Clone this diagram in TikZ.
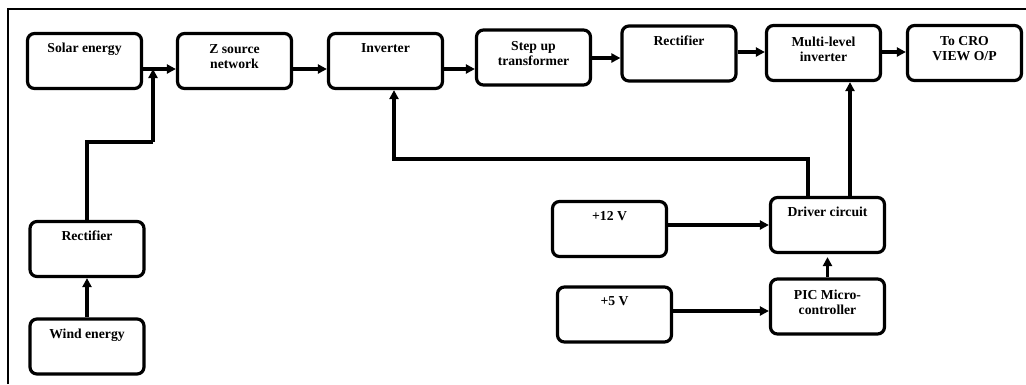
\documentclass[tikz,border=0pt]{standalone}
\usepackage{fontspec}
\setmainfont{Liberation Serif}
\usetikzlibrary{arrows.meta}
\begin{document}
\begin{tikzpicture}[x=1pt,y=-1pt,
  blk/.style={draw, line width=3.2pt, rounded corners=7pt, minimum width=114pt, minimum height=55pt, inner sep=0pt},
  lab/.style={anchor=north, inner sep=0pt, align=center, font=\fontsize{13.7}{15}\selectfont\bfseries},
  lab1/.style={lab, yshift=-11pt},
  lab2/.style={lab, yshift=-12.5pt},
  arr/.style={line width=3.2pt, -{Triangle[length=9pt,width=9pt]}},
  ln/.style={line width=3.2pt}]
\useasboundingbox (0,0) rectangle (1026,384);
\draw[line width=1.8pt] (8,384) -- (8,9) -- (1026,9);
% top row
\node[blk, label={[lab1]north:Solar energy}] (solar) at (84.5,61) {};
\node[blk, label={[lab2]north:Z source\\network}] (zsrc) at (234.5,61) {};
\node[blk, label={[lab1]north:Inverter}] (inv) at (385.5,61) {};
\node[blk, label={[lab2]north:Step up\\transformer}] (step) at (533.5,57.5) {};
\node[blk, label={[lab1]north:Rectifier}] (rect) at (679,53.5) {};
\node[blk, label={[lab2]north:Multi-level\\inverter}] (multi) at (823.5,53) {};
\node[blk, label={[lab2]north:To CRO\\VIEW O/P}] (cro) at (964.5,53) {};
% left column
\node[blk, label={[lab1]north:Rectifier}] (wrect) at (87,249) {};
\node[blk, label={[lab1]north:Wind energy}] (wind) at (87,346.5) {};
% bottom right
\node[blk, label={[lab1]north:+12 V}] (p12) at (609.5,229) {};
\node[blk, label={[lab1]north:Driver circuit}] (driver) at (827.5,225) {};
\node[blk, label={[lab1]north:+5 V}] (p5) at (614.5,314.5) {};
\node[blk, label={[lab2]north:PIC Micro-\\controller}] (pic) at (827.5,306.5) {};
% coordinates
\coordinate (j) at (153,69);
\coordinate (jm) at (153,142);
% connectors
\draw[arr] (solar.east |- 0,69) -- (zsrc.west |- 0,69);
\draw[arr] (wind.north) -- (wrect.south);
\draw[ln] (wrect.north) |- (jm);
\draw[arr] (jm) -- (j);
\draw[arr] (zsrc.east |- 0,69) -- (inv.west |- 0,69);
\draw[arr] (inv.east |- 0,69) -- (step.west |- 0,69);
\draw[arr] (step.east |- 0,58) -- (rect.west |- 0,58);
\draw[arr] (rect.east |- 0,52) -- (multi.west |- 0,52);
\draw[arr] (multi.east |- 0,52) -- (cro.west |- 0,52);
\draw[arr] ([xshift=-19.5pt]driver.north) -- ++(0,-37) -| ([xshift=8.5pt]inv.south);
\draw[arr] ([xshift=22.5pt]driver.north) -- ([xshift=22.5pt]driver.north |- multi.south);
\draw[arr] (p12.east |- driver.west) -- (driver.west);
\coordinate (picin) at ([yshift=-4.5pt]pic.west);
\draw[arr] (p5.east |- picin) -- (picin);
\draw[arr, shorten >=3pt] (pic.north) -- (driver.south);
\end{tikzpicture}
\end{document}
